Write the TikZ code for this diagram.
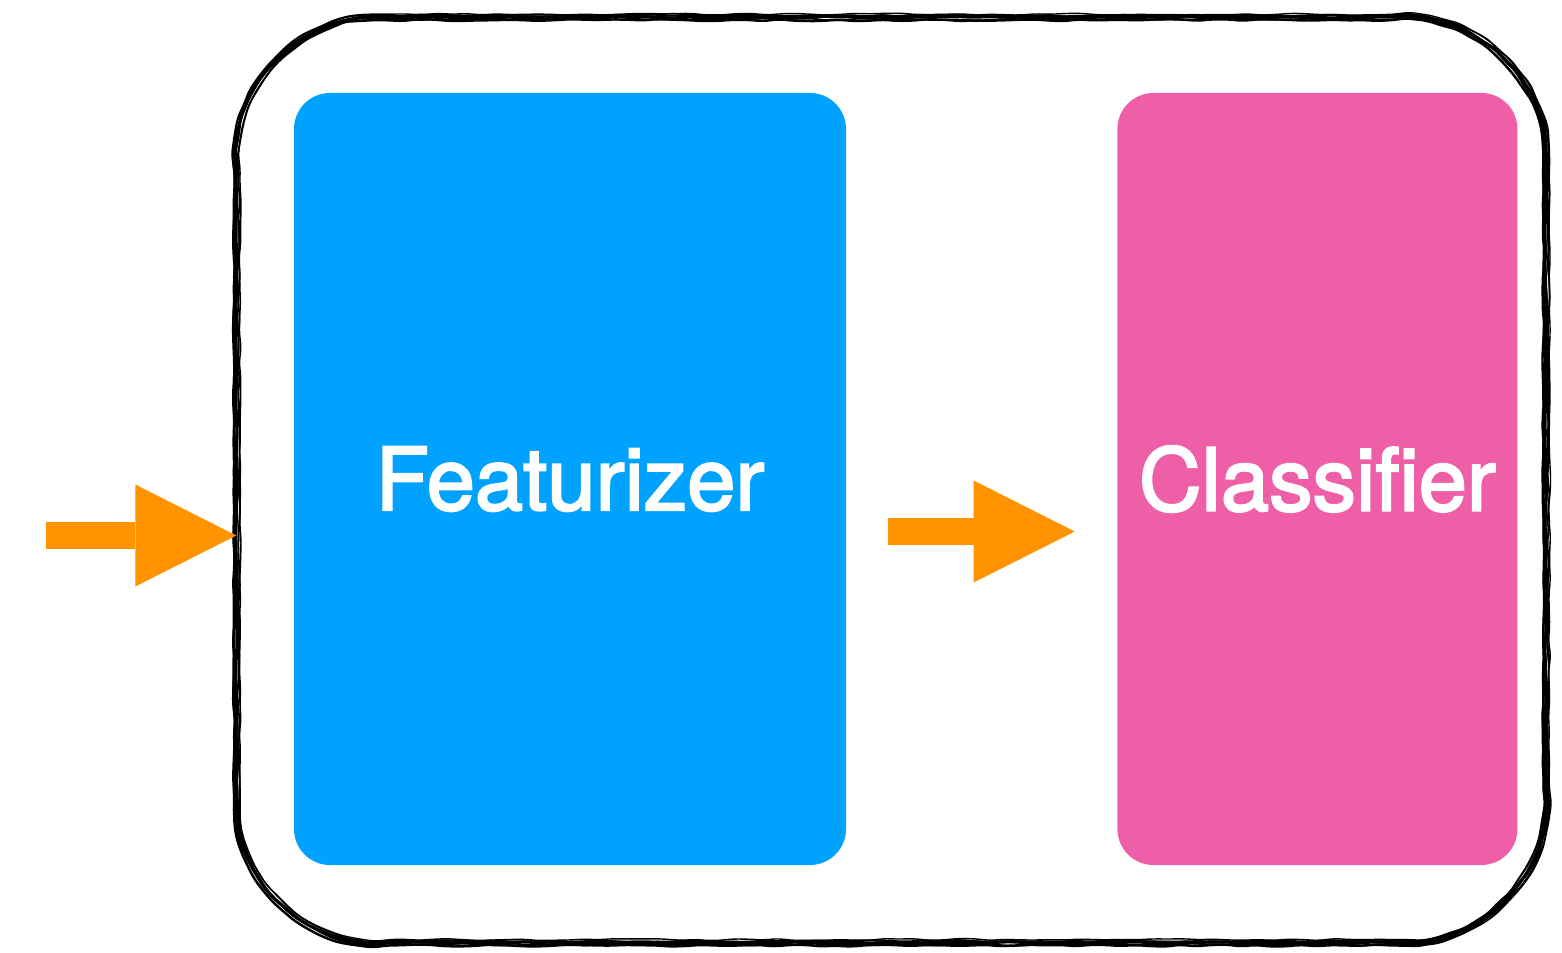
\documentclass[tikz,border=0pt]{standalone}
\usepackage{fontspec}
\newfontfamily\boxfont{TeX Gyre Heros}[Ligatures=CommonOff,RawFeature={embolden=2.5}]
\usetikzlibrary{arrows.meta,decorations.pathmorphing,positioning}
\definecolor{featblue}{HTML}{00A2FF}
\definecolor{clfpink}{HTML}{EF5FA7}
\definecolor{floworange}{HTML}{FF9300}
\tikzset{
  block/.style={rounded corners=0.36cm,inner sep=0pt,minimum height=7.72cm,text=white,font=\boxfont\fontsize{24.7}{30}\selectfont},
  flow/.style={draw=floworange,line width=0.27cm,-{Triangle[length=1.01cm,width=1.02cm,line width=0pt]}},
  sketch/.style={draw=black,rounded corners=0.6mm,decorate,decoration={random steps,segment length=1.5mm,amplitude=0.3pt}}
}

\begin{document}
\begin{tikzpicture}
\useasboundingbox (0,0) rectangle (15.62,9.52);
% model frame, drawn as a few loose pen strokes
\node[minimum width=13.08cm,minimum height=9.24cm,inner sep=0pt] (frame) at (8.91,4.72) {};
\foreach \dx/\dy/\lw/\s in {0/0/0.9/11, 0.8/-0.6/0.5/12, -0.7/0.5/0.6/13, 0.4/0.9/0.4/14, -0.5/-0.8/0.7/15, 1.1/0.2/0.4/16}{
  \pgfmathsetseed{\s}
  \draw[sketch,line width=\lw pt,transform canvas={shift={(\dx pt,\dy pt)}}]
    (frame.west) -- ([yshift=1.45cm]frame.south west)
    arc[start angle=180,end angle=270,radius=1.45cm] -- ([xshift=-1.45cm]frame.south east)
    arc[start angle=-90,end angle=0,radius=1.45cm] -- ([yshift=-1.45cm]frame.north east)
    arc[start angle=0,end angle=90,radius=1.45cm] -- ([xshift=1.45cm]frame.north west)
    arc[start angle=90,end angle=180,radius=1.45cm] -- (frame.west);
}
% the two stages
\node[block,fill=featblue,minimum width=5.52cm] (feat) at (5.70,4.73) {Featurizer};
\node[block,fill=clfpink,minimum width=4.00cm,right=2.70cm of feat] (clf) {Classifier};
% data flow
\coordinate (src) at (0.46,4.165);
\draw[flow] (src) -- (src -| frame.west);
\draw[flow] ([xshift=0.41cm,yshift=-0.525cm]feat.east) -- ([xshift=-0.42cm,yshift=-0.525cm]clf.west);
\end{tikzpicture}
\end{document}
